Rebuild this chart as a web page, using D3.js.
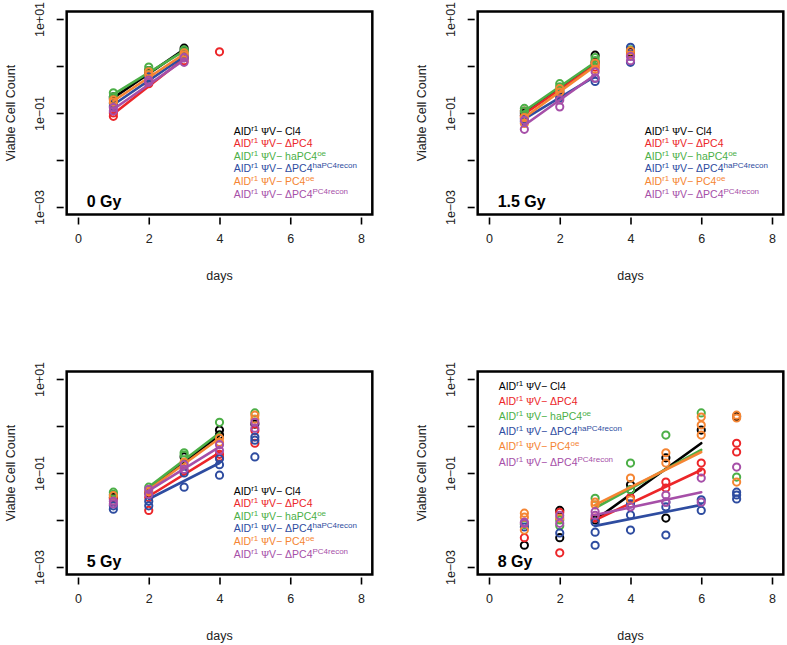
<!DOCTYPE html>
<html>
<head>
<meta charset="utf-8">
<script src="https://cdn.jsdelivr.net/npm/d3@7"></script>
<style>
  html, body { margin: 0; padding: 0; background: #fff; }
  svg text { font-family: "Liberation Sans", Arial, sans-serif; }
</style>
</head>
<body>
<svg id="chart" width="787" height="645"></svg>
<script>
// ---------------- DATA ----------------
const seriesBase = ["Cl4", "\u0394PC4", "haPC4", "\u0394PC4", "PC4", "\u0394PC4"];
const seriesSup  = ["", "", "oe", "haPC4recon", "oe", "PC4recon"];
const colors     = ["#000000", "#EC2629", "#4CAF47", "#2E4CA0", "#F58533", "#A64FA8"];
const panelLabels = ["0 Gy", "1.5 Gy", "5 Gy", "8 Gy"];
const xTicks = [0, 2, 4, 6, 8];
const yTicks = [1e-3, 1e-2, 1e-1, 1, 10];
const yTickLabels = ["1e\u221203", "", "1e\u221201", "", "1e+01"];
const xTitle = "days";
const yTitle = "Viable Cell Count";

// points: [series, day, value]
const pts0 = [
  [0,1,0.22],[0,1,0.20],[0,2,0.80],[0,2,0.70],[0,3,2.40],[0,3,2.10],
  [1,1,0.085],[1,1,0.10],[1,2,0.42],[1,2,0.50],[1,3,1.50],[1,3,1.30],[1,4,2.0],
  [2,1,0.27],[2,1,0.22],[2,2,0.95],[2,2,0.80],[2,3,2.20],[2,3,2.00],
  [3,1,0.16],[3,1,0.14],[3,2,0.60],[3,2,0.55],[3,3,1.70],[3,3,1.50],
  [4,1,0.19],[4,1,0.17],[4,2,0.75],[4,2,0.65],[4,3,1.90],[4,3,1.70],
  [5,1,0.13],[5,1,0.11],[5,2,0.50],[5,2,0.45],[5,3,1.50],[5,3,1.20]
];
const pts15 = [
  [0,1,0.10],[0,1,0.09],[0,2,0.30],[0,2,0.27],[0,3,1.70],[0,3,1.20],[0,4,2.0],
  [1,1,0.11],[1,1,0.085],[1,2,0.28],[1,2,0.25],[1,3,1.10],[1,3,0.95],[1,4,1.8],
  [2,1,0.125],[2,1,0.11],[2,2,0.42],[2,2,0.36],[2,3,1.50],[2,3,1.30],[2,4,2.2],
  [3,1,0.075],[3,1,0.065],[3,2,0.24],[3,2,0.21],[3,3,0.55],[3,3,0.47],[3,4,2.5],[3,4,1.2],
  [4,1,0.08],[4,1,0.06],[4,2,0.33],[4,2,0.28],[4,3,1.15],[4,3,0.85],[4,4,2.1],[4,4,1.7],
  [5,1,0.07],[5,1,0.045],[5,2,0.19],[5,2,0.135],[5,3,0.75],[5,3,0.55],[5,4,1.6],[5,4,1.3]
];
const pts5 = [
  [0,1,0.030],[0,2,0.038],[0,3,0.22],[0,4,0.82],[0,4,0.65],[0,5,1.1],
  [1,1,0.028],[1,2,0.030],[1,2,0.016],[1,3,0.11],[1,4,0.25],[1,4,0.22],[1,5,0.80],[1,5,0.43],
  [2,1,0.039],[2,1,0.035],[2,2,0.050],[2,3,0.27],[2,3,0.24],[2,4,1.2],[2,5,1.9],
  [3,1,0.020],[3,1,0.017],[3,2,0.025],[3,2,0.020],[3,3,0.10],[3,3,0.05],[3,4,0.20],[3,4,0.15],[3,4,0.09],[3,5,0.58],[3,5,0.50],[3,5,0.22],
  [4,1,0.033],[4,2,0.040],[4,3,0.17],[4,4,0.55],[4,4,0.45],[4,5,1.7],[4,5,1.4],
  [5,1,0.025],[5,1,0.022],[5,2,0.045],[5,2,0.035],[5,3,0.15],[5,3,0.12],[5,4,0.40],[5,4,0.30],[5,5,1.2],[5,5,0.9]
];
const pts8 = [
  [0,1,0.0029],[0,2,0.016],[0,2,0.0042],[0,3,0.010],[0,4,0.056],[0,4,0.044],[0,5,0.21],[0,5,0.011],[0,6,0.82],[0,7,1.6],
  [1,1,0.0042],[1,2,0.0145],[1,2,0.0020],[1,3,0.011],[1,4,0.030],[1,5,0.064],[1,5,0.048],[1,6,0.163],[1,6,0.105],[1,7,0.43],[1,7,0.28],
  [2,1,0.0080],[2,2,0.010],[2,2,0.0075],[2,3,0.029],[2,4,0.163],[2,4,0.044],[2,5,0.64],[2,6,1.9],[2,7,0.082],
  [3,1,0.0071],[3,2,0.0053],[3,3,0.009],[3,3,0.0055],[3,3,0.0029],[3,4,0.022],[3,4,0.0128],[3,4,0.0061],[3,5,0.024],[3,5,0.019],[3,5,0.0048],[3,6,0.027],[3,6,0.016],[3,7,0.039],[3,7,0.034],[3,7,0.028],
  [4,1,0.014],[4,1,0.0115],[4,1,0.0061],[4,2,0.011],[4,3,0.024],[4,3,0.021],[4,4,0.078],[4,4,0.027],[4,5,0.27],[4,5,0.163],[4,6,1.55],[4,6,1.05],[4,6,0.64],[4,7,1.7],[4,7,1.48],[4,7,0.064],
  [5,1,0.009],[5,1,0.0085],[5,2,0.0125],[5,2,0.0085],[5,3,0.015],[5,3,0.0125],[5,4,0.019],[5,5,0.034],[5,5,0.024],[5,6,0.078],[5,6,0.024],[5,7,0.134]
];

// fitted growth lines: [start value, end value] per series over fitDays
const fitDays0 = [1, 3];
const fit0 = [[0.21,2.25],[0.095,1.45],[0.25,2.1],[0.15,1.6],[0.18,1.8],[0.12,1.35]];
const fitDays15 = [1, 3];
const fit15 = [[0.10,1.15],[0.095,1.05],[0.11,1.2],[0.075,0.6],[0.08,1.0],[0.055,0.65]];
const fitDays5 = [2, 4];
const fit5 = [[0.046,0.64],[0.032,0.27],[0.05,0.71],[0.028,0.163],[0.044,0.55],[0.042,0.36]];
const fitDays8 = [3, 6];
const fit8 = [[0.01,0.43],[0.01,0.116],[0.018,0.31],[0.0075,0.021],[0.021,0.28],[0.0128,0.039]];

// ---------------- LAYOUT ----------------
const panels = [
  { pts: pts0,  fit: fit0,  fitDays: fitDays0,  x0: 78,  yTop: 19,  legend: "br" },
  { pts: pts15, fit: fit15, fitDays: fitDays15, x0: 489, yTop: 19,  legend: "br" },
  { pts: pts5,  fit: fit5,  fitDays: fitDays5,  x0: 78,  yTop: 379, legend: "br" },
  { pts: pts8,  fit: fit8,  fitDays: fitDays8,  x0: 489, yTop: 379, legend: "tl" }
];

const svg = d3.select("#chart");
svg.append("rect").attr("width", 787).attr("height", 645).attr("fill", "#fff");

panels.forEach((p, i) => {
  const x = d3.scaleLinear().domain([0, 8]).range([p.x0, p.x0 + 283]);
  const y = d3.scaleLog().domain([1e-3, 10]).range([p.yTop + 188, p.yTop]);
  const bx0 = x(-0.32), bx1 = x(8.32);
  const by0 = p.yTop - 7.5, by1 = p.yTop + 188 + 7.5;
  const g = svg.append("g");

  // data
  for (let s = 0; s < 6; s++) {
    const sp = p.pts.filter(d => d[0] === s);
    g.selectAll(null).data(sp).enter().append("circle")
      .attr("cx", d => x(d[1])).attr("cy", d => y(d[2])).attr("r", 3.6)
      .attr("fill", "none").attr("stroke", colors[s]).attr("stroke-width", 2);
    const f = p.fit[s];
    g.append("line")
      .attr("x1", x(p.fitDays[0])).attr("y1", y(f[0]))
      .attr("x2", x(p.fitDays[1])).attr("y2", y(f[1]))
      .attr("stroke", colors[s]).attr("stroke-width", 2.6).attr("stroke-linecap", "round");
  }

  // box
  g.append("rect").attr("x", bx0).attr("y", by0).attr("width", bx1 - bx0).attr("height", by1 - by0)
    .attr("fill", "none").attr("stroke", "#000").attr("stroke-width", 2.5);

  // x axis
  const xa = g.append("g").attr("transform", `translate(0,${by1 + 3})`)
    .call(d3.axisBottom(x).tickValues(xTicks).tickSize(7).tickPadding(10).tickFormat(d3.format("d")));
  xa.select(".domain").remove();
  xa.selectAll("line").attr("stroke-width", 1.6);
  xa.selectAll("text").attr("font-size", 12.5).attr("fill", "#222");

  // y axis
  const ya = g.append("g").attr("transform", `translate(${bx0 - 3},0)`)
    .call(d3.axisLeft(y).tickValues(yTicks).tickSize(7).tickFormat((d, k) => yTickLabels[k]));
  ya.select(".domain").remove();
  ya.selectAll("line").attr("stroke-width", 1.6);
  ya.selectAll("text")
    .attr("font-size", 12.5).attr("fill", "#222")
    .attr("text-anchor", "middle").attr("dy", null).attr("x", null)
    .attr("transform", "translate(-20,0) rotate(-90)");

  // titles
  g.append("text").attr("x", (bx0 + bx1) / 2).attr("y", by1 + 65)
    .attr("text-anchor", "middle").attr("font-size", 12.5).attr("fill", "#222").text(xTitle);
  g.append("text").attr("transform", `translate(${bx0 - 52},${(by0 + by1) / 2}) rotate(-90)`)
    .attr("text-anchor", "middle").attr("font-size", 12.5).attr("fill", "#222").text(yTitle);

  // panel label
  g.append("text").attr("x", bx0 + 20).attr("y", by1 - 8)
    .attr("font-size", 16).attr("font-weight", "bold").attr("fill", "#000").text(panelLabels[i]);

  // legend
  const lx = p.legend === "br" ? bx0 + 167 : bx0 + 21;
  const ly = p.legend === "br" ? by0 + 123 : by0 + 18;
  const dy = p.legend === "br" ? 12.6 : 15.2;
  for (let s = 0; s < 6; s++) {
    const t = g.append("text").attr("x", lx).attr("y", ly + s * dy)
      .attr("font-size", 10.5).attr("fill", colors[s]);
    t.append("tspan").text("AID");
    t.append("tspan").attr("font-size", 8).attr("dy", -4).text("r1");
    t.append("tspan").attr("dy", 4).text(" ");
    t.append("tspan").attr("font-family", "Liberation Serif, serif").text("\u03A8");
    t.append("tspan").text("V\u2212 " + seriesBase[s]);
    if (seriesSup[s]) t.append("tspan").attr("font-size", 8).attr("dy", -4).text(seriesSup[s]);
  }
});
</script>
</body>
</html>
